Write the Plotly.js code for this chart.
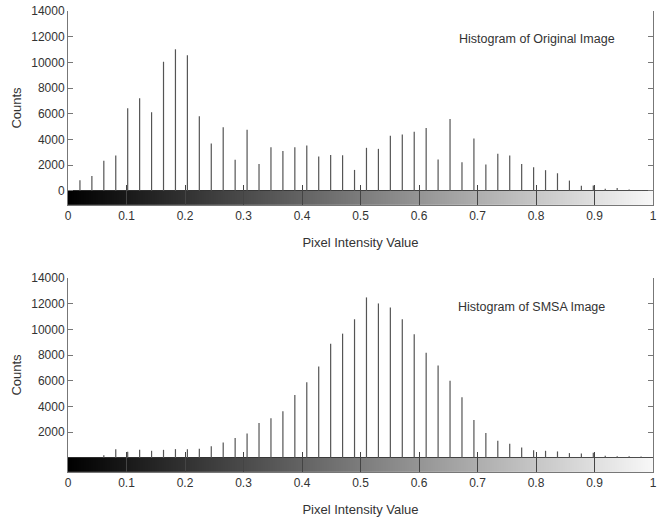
<!DOCTYPE html>
<html>
<head>
<meta charset="utf-8">
<script src="https://cdn.plot.ly/plotly-3.0.1.min.js"></script>
<style>html,body{margin:0;padding:0;background:#fff;}#chart{width:659px;height:522px;}</style>
</head>
<body>
<div id="chart"></div>
<script>
// Bin centres (50 bins, MATLAB imhist style: k/49) - bins 1..48
const binIndex = [1,2,3,4,5,6,7,8,9,10,11,12,13,14,15,16,17,18,19,20,21,22,23,24,25,26,27,28,29,30,31,32,33,34,35,36,37,38,39,40,41,42,43,44,45,46,47,48];
const binCenters = binIndex.map(k => k / 49);

const originalCounts = [830,1150,2350,2750,6430,7200,6120,10050,11020,10550,5800,3680,4950,2420,4750,2100,3400,3110,3400,3530,2680,2800,2770,1630,3350,3270,4280,4380,4610,4900,2440,5600,2230,4070,2050,2880,2750,2100,1840,1610,1370,800,390,420,160,230,100,60];
const smsaCounts = [0,0,210,680,470,625,550,625,680,680,700,910,1200,1540,1900,2710,3080,3620,4900,5890,7120,8890,9670,10790,12490,12020,11710,10790,9620,8190,7190,6000,4720,2950,1930,1330,1090,810,600,550,500,370,340,400,160,130,130,100];

const xTicks = [0,0.1,0.2,0.3,0.4,0.5,0.6,0.7,0.8,0.9,1];
const yTicksTop = [0,2000,4000,6000,8000,10000,12000,14000];
const yTicksBottom = [2000,4000,6000,8000,10000,12000,14000];
const panelTitles = ['Histogram of Original Image','Histogram of SMSA Image'];
const xTitle = 'Pixel Intensity Value';
const yTitle = 'Counts';
const gradientEnds = [0, 1];

const FONT = 'Liberation Sans, Arial, sans-serif';
const axisCol = '#777';
const barCol = '#555';
const yMin = -1100, yMax = 14000;

// Stems drawn as one-pixel error bars reaching from each count down to zero
function stemTrace(y, xa, ya) {
  return {type:'scatter', mode:'markers', x: binCenters, y: y, xaxis: xa, yaxis: ya,
    marker:{size:0.1, color: barCol, opacity:0},
    error_y:{type:'data', symmetric:false, array: y.map(() => 0), arrayminus: y,
      width:0, thickness:1.2, color: barCol},
    hoverinfo:'skip', showlegend:false, cliponaxis:true};
}
function gradTrace(xa, ya) {
  return {type:'heatmap', x: gradientEnds, y:[yMin, 0], z:[gradientEnds], zsmooth:'best',
    colorscale:[[0,'#000000'],[1,'#f8f8f8']], showscale:false, xaxis: xa, yaxis: ya, hoverinfo:'skip'};
}

const data = [
  gradTrace('x','y'), stemTrace(originalCounts,'x','y'),
  gradTrace('x2','y2'), stemTrace(smsaCounts,'x2','y2')
];

function xax(anchor) {
  return {anchor: anchor, range:[0,1], tickvals: xTicks, ticks:'inside', ticklen:20, tickcolor:'#444',
    showline:true, linecolor: axisCol, mirror:false, showgrid:false, zeroline:false,
    tickfont:{family:FONT, size:12, color:'#333'},
    title:{text: xTitle, font:{family:FONT, size:13, color:'#333'}, standoff: 15}};
}
function xtop(overlay, anchor) {
  return {overlaying: overlay, anchor: anchor, side:'top', range:[0,1], tickvals: xTicks, ticks:'inside', ticklen:5,
    tickcolor: axisCol, showticklabels:false, showline:true, linecolor: axisCol, showgrid:false, zeroline:false};
}
function yax(domain, anchor, tv) {
  return {domain: domain, anchor: anchor, range:[yMin, yMax], tickvals: tv, tickformat:'d', ticks:'inside', ticklen:5,
    tickcolor: axisCol, showline:true, linecolor: axisCol, mirror:'ticks', showgrid:false,
    zeroline:true, zerolinecolor:'#333', zerolinewidth:1,
    tickfont:{family:FONT, size:12, color:'#333'},
    title:{text: yTitle, font:{family:FONT, size:13, color:'#333'}, standoff: 6}};
}

const layout = {
  width:659, height:522, paper_bgcolor:'#fff', plot_bgcolor:'#fff',
  margin:{l:68, r:6, t:11, b:50}, showlegend:false,
  xaxis: xax('y'), yaxis: yax([0.5792,1],'x', yTicksTop),
  xaxis2: xax('y2'), yaxis2: yax([0,0.4208],'x2', yTicksBottom),
  xaxis3: xtop('x','y'), xaxis4: xtop('x2','y2'),
  annotations: [
    {xref:'x domain', yref:'y domain', x:0.802, y:0.856, text: panelTitles[0], showarrow:false,
      xanchor:'center', yanchor:'middle', font:{family:FONT, size:12.5, color:'#333'}},
    {xref:'x2 domain', yref:'y2 domain', x:0.792, y:0.852, text: panelTitles[1], showarrow:false,
      xanchor:'center', yanchor:'middle', font:{family:FONT, size:12.5, color:'#333'}}
  ]
};

Plotly.newPlot('chart', data, layout, {displayModeBar:false, staticPlot:true});
</script>
</body>
</html>
